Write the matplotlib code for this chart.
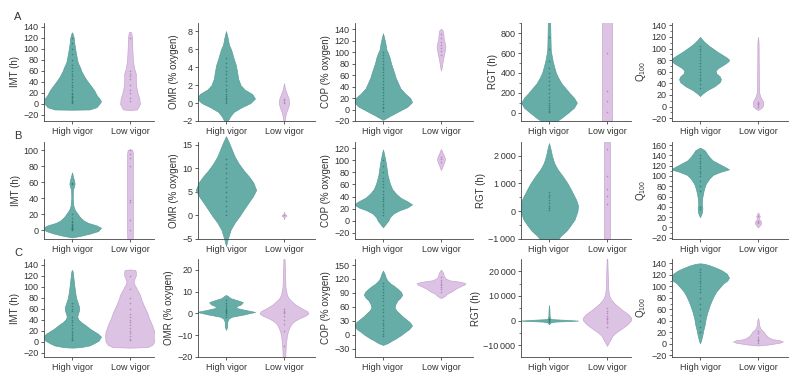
import numpy as np
import matplotlib
matplotlib.use("Agg")
import matplotlib.pyplot as plt
from matplotlib.ticker import AutoMinorLocator

plt.rcParams['font.family'] = ['Liberation Sans', 'DejaVu Sans']
plt.rcParams['mathtext.fontset'] = 'custom'
plt.rcParams['mathtext.rm'] = 'Liberation Sans'
plt.rcParams['mathtext.it'] = 'Liberation Sans:italic'

categories = ["High vigor", "Low vigor"]
row_letters = ["A", "B", "C"]
ylabels = ["IMT (h)", "OMR (% oxygen)", "COP (% oxygen)", "RGT (h)", "Q$_{100}$"]

# ---------------- Row A ----------------
imt_a_hi_y = [-10.5, -10, -6, 0, 5, 10, 15, 25, 35, 42, 50, 60, 66, 75, 85, 97, 110, 120, 128, 130]
imt_a_hi_w = [0.0, 0.30, 0.42, 0.47, 0.50, 0.47, 0.43, 0.38, 0.31, 0.26, 0.21, 0.16, 0.14, 0.10, 0.08, 0.06, 0.04, 0.03, 0.01, 0.0]
imt_a_hi_pts = [1, 3, 5, 8, 10, 12, 15, 18, 20, 25, 30, 35, 40, 45, 50, 55, 60, 65, 70, 80, 90, 100, 110, 120]
imt_a_lo_y = [-11, -10, 0, 10, 20, 30, 40, 55, 65, 80, 100, 120, 130, 131]
imt_a_lo_w = [0.0, 0.12, 0.17, 0.16, 0.13, 0.11, 0.10, 0.10, 0.07, 0.05, 0.04, 0.035, 0.02, 0.0]
imt_a_lo_pts = [5, 10, 20, 25, 35, 45, 50, 55, 60, 120]

omr_a_hi_y = [-2, -1.5, -1, -0.5, 0, 0.5, 1, 1.5, 2, 2.7, 3.5, 4.2, 5, 5.9, 6.5, 7.2, 8]
omr_a_hi_w = [0.03, 0.07, 0.13, 0.26, 0.42, 0.50, 0.45, 0.32, 0.25, 0.21, 0.19, 0.17, 0.13, 0.09, 0.05, 0.03, 0.0]
omr_a_hi_pts = [0, 0.2, 0.4, 0.6, 0.8, 1.0, 1.3, 1.6, 2.0, 2.4, 2.8, 3.2, 3.6, 4.0, 4.5, 5.0]
omr_a_lo_y = [-2, -1.5, -1, -0.5, 0, 0.5, 1, 1.5, 2.2]
omr_a_lo_w = [0.01, 0.02, 0.04, 0.07, 0.09, 0.08, 0.05, 0.02, 0.0]
omr_a_lo_pts = [0, 0.1, 0.3, 0.5]

cop_a_hi_y = [-18, -10, -2, 5, 13, 20, 28, 37, 46, 55, 68, 80, 92, 100, 104, 116, 125, 133]
cop_a_hi_w = [0.0, 0.14, 0.29, 0.42, 0.50, 0.47, 0.38, 0.30, 0.26, 0.22, 0.18, 0.14, 0.11, 0.08, 0.06, 0.04, 0.02, 0.0]
cop_a_hi_pts = [-2, 2, 5, 10, 15, 20, 25, 30, 35, 40, 45, 50, 55, 60, 65, 70, 75, 80, 85, 90, 95, 100]
cop_a_lo_y = [68, 75, 85, 95, 105, 110, 115, 125, 132, 138, 141]
cop_a_lo_w = [0.0, 0.015, 0.03, 0.05, 0.07, 0.075, 0.065, 0.045, 0.04, 0.03, 0.0]
cop_a_lo_pts = [95, 102, 108, 112, 118, 125, 132]

rgt_a_hi_y = [-150, -100, -50, 0, 50, 100, 150, 200, 250, 290, 350, 400, 460, 530, 630, 750, 900, 950]
rgt_a_hi_w = [0.0, 0.10, 0.22, 0.33, 0.43, 0.48, 0.43, 0.35, 0.28, 0.22, 0.16, 0.12, 0.09, 0.06, 0.03, 0.025, 0.02, 0.02]
rgt_a_hi_pts = [5, 20, 40, 60, 80, 100, 130, 160, 200, 240, 280, 320, 360, 400, 450, 520, 640, 760]
rgt_a_lo_y = [-100, 1000]
rgt_a_lo_w = [0.085, 0.085]
rgt_a_lo_pts = [7, 119, 221, 602]

q_a_hi_y = [18, 22, 28, 35, 42, 47, 52, 57, 62, 67, 73, 78, 81, 85, 90, 95, 100, 105, 110, 115, 120]
q_a_hi_w = [0.0, 0.04, 0.12, 0.25, 0.34, 0.36, 0.34, 0.28, 0.27, 0.32, 0.42, 0.49, 0.50, 0.45, 0.37, 0.29, 0.22, 0.15, 0.09, 0.04, 0.0]
q_a_hi_pts = [32, 38, 45, 50, 55, 60, 65, 70, 75, 80, 85, 90, 95, 100, 105]
q_a_lo_y = [-6, -3, 0, 5, 10, 15, 20, 25, 40, 80, 110, 120]
q_a_lo_w = [0.0, 0.05, 0.08, 0.09, 0.08, 0.05, 0.03, 0.02, 0.015, 0.012, 0.01, 0.0]
q_a_lo_pts = [0, 2, 4, 6, 8]

# ---------------- Row B ----------------
imt_b_hi_y = [-9, -7, -4, -1, 3, 6, 9, 12, 16, 20, 25, 30, 40, 50, 55, 58, 62, 66, 72]
imt_b_hi_w = [0.0, 0.15, 0.32, 0.45, 0.50, 0.42, 0.28, 0.20, 0.14, 0.10, 0.05, 0.025, 0.012, 0.015, 0.035, 0.045, 0.035, 0.02, 0.0]
imt_b_hi_pts = [0, 1, 2, 3, 4, 5, 6, 8, 10, 12, 15, 20, 57, 59]
imt_b_lo_y = [-15, 0, 50, 95, 100, 101]
imt_b_lo_w = [0.045, 0.05, 0.05, 0.05, 0.04, 0.0]
imt_b_lo_pts = [0, 13, 35, 38, 80, 90, 95, 100]

omr_b_hi_y = [-6.5, -5, -3, -1.5, 0, 1.5, 2.6, 4, 5.4, 7, 8.2, 9.5, 11, 12.5, 14, 15.5, 16.8]
omr_b_hi_w = [0.0, 0.03, 0.08, 0.15, 0.24, 0.32, 0.38, 0.46, 0.52, 0.47, 0.40, 0.31, 0.22, 0.15, 0.10, 0.05, 0.0]
omr_b_hi_pts = [0, 1, 2, 3, 4, 5, 6, 7, 8, 9, 10, 11, 12]
omr_b_lo_y = [-0.8, -0.3, 0, 0.3, 0.8]
omr_b_lo_w = [0.0, 0.01, 0.045, 0.01, 0.0]
omr_b_lo_pts = [0]

cop_b_hi_y = [-11, -5, 0, 6, 12, 17, 22, 27, 32, 38, 45, 52, 61, 75, 85, 95, 105, 112, 118]
cop_b_hi_w = [0.0, 0.05, 0.09, 0.12, 0.18, 0.28, 0.42, 0.50, 0.42, 0.30, 0.22, 0.16, 0.12, 0.08, 0.065, 0.05, 0.03, 0.015, 0.0]
cop_b_hi_pts = [10, 15, 20, 25, 28, 32, 36, 40, 45, 50, 55, 60, 65, 70, 80, 90, 100]
cop_b_lo_y = [84, 90, 96, 102, 108, 113, 119]
cop_b_lo_w = [0.0, 0.025, 0.05, 0.07, 0.05, 0.025, 0.0]
cop_b_lo_pts = [98, 102, 106]

rgt_b_hi_y = [-1300, -1150, -1000, -890, -700, -540, -300, 0, 200, 400, 770, 1000, 1250, 1500, 1730, 2000, 2250, 2450]
rgt_b_hi_w = [0.0, 0.10, 0.16, 0.20, 0.30, 0.36, 0.44, 0.49, 0.50, 0.47, 0.38, 0.32, 0.24, 0.15, 0.09, 0.05, 0.025, 0.0]
rgt_b_hi_pts = [50, 120, 200, 300, 400, 500, 600, 700]
rgt_b_lo_y = [-1000, 2490]
rgt_b_lo_w = [0.045, 0.045]
rgt_b_lo_pts = [250, 550, 800, 1250, 2250]

q_b_hi_y = [20, 25, 30, 38, 45, 55, 65, 75, 85, 95, 102, 108, 113, 118, 124, 130, 137, 143, 150, 155]
q_b_hi_w = [0.0, 0.02, 0.035, 0.04, 0.03, 0.035, 0.05, 0.07, 0.10, 0.16, 0.22, 0.35, 0.50, 0.42, 0.32, 0.22, 0.16, 0.12, 0.08, 0.0]
q_b_hi_pts = [35, 40, 70, 80, 90, 100, 105, 110, 115, 120, 125, 130, 135, 140]
q_b_lo_y = [0, 4, 8, 12, 15, 18, 22, 26, 29]
q_b_lo_w = [0.0, 0.03, 0.055, 0.05, 0.025, 0.02, 0.03, 0.015, 0.0]
q_b_lo_pts = [8, 10, 12, 22]

# ---------------- Row C ----------------
imt_c_hi_y = [-11, -10, -7, -3, 2, 9, 14, 18, 24, 30, 35, 40, 45, 50, 56, 62, 70, 78, 86, 97, 110, 120, 128, 130]
imt_c_hi_w = [0.0, 0.15, 0.30, 0.38, 0.46, 0.50, 0.45, 0.39, 0.30, 0.23, 0.16, 0.11, 0.09, 0.10, 0.12, 0.125, 0.10, 0.075, 0.06, 0.045, 0.03, 0.02, 0.01, 0.0]
imt_c_hi_pts = [2, 5, 8, 12, 15, 20, 25, 30, 35, 40, 45, 55, 60, 65, 70]
imt_c_lo_y = [-11, -10, -6, 0, 10, 18, 30, 42, 54, 65, 75, 85, 95, 105, 110, 115, 120, 127, 130, 131]
imt_c_lo_w = [0.0, 0.30, 0.38, 0.42, 0.43, 0.42, 0.38, 0.33, 0.29, 0.24, 0.20, 0.17, 0.12, 0.07, 0.06, 0.08, 0.10, 0.10, 0.09, 0.0]
imt_c_lo_pts = [2, 5, 10, 15, 20, 25, 30, 35, 40, 45, 50, 60, 70, 80, 95, 120]

omr_c_hi_y = [-7.5, -6, -4, -2.5, -1.5, -0.5, 0.7, 1.5, 2.5, 3.3, 4.2, 5.2, 6, 7, 8, 8.5]
omr_c_hi_w = [0.0, 0.02, 0.02, 0.04, 0.10, 0.30, 0.50, 0.35, 0.18, 0.18, 0.26, 0.29, 0.20, 0.08, 0.03, 0.0]
omr_c_hi_pts = [-1.5, -0.5, 0, 0.5, 1, 1.5, 2, 3, 4, 5, 6]
omr_c_lo_y = [-21, -15, -10, -8, -6, -4.7, -3.5, -2.4, -1, 0, 1, 2.4, 4, 5.4, 7, 8.5, 12, 16, 20, 25]
omr_c_lo_w = [0.02, 0.03, 0.05, 0.07, 0.10, 0.13, 0.18, 0.25, 0.37, 0.42, 0.40, 0.30, 0.20, 0.14, 0.08, 0.05, 0.025, 0.02, 0.015, 0.01]
omr_c_lo_pts = [-15, -8, -5, -3, -1, 0, 0.5, 1, 2]

cop_c_hi_y = [-22, -18, -12, -8, 0, 6, 12, 20, 27, 33, 40, 45, 52, 58, 65, 74, 80, 86, 92, 98, 105, 110, 116, 122, 130, 138]
cop_c_hi_w = [0.0, 0.08, 0.16, 0.22, 0.32, 0.38, 0.45, 0.50, 0.46, 0.40, 0.33, 0.29, 0.23, 0.20, 0.21, 0.25, 0.30, 0.33, 0.31, 0.26, 0.19, 0.13, 0.08, 0.05, 0.03, 0.0]
cop_c_hi_pts = [-3, 2, 8, 14, 20, 26, 32, 40, 48, 56, 64, 72, 80, 86, 92, 98, 105, 112]
cop_c_lo_y = [79, 83, 88, 93, 99, 104, 108, 111, 114, 117, 121, 126, 131, 136, 140]
cop_c_lo_w = [0.0, 0.06, 0.10, 0.18, 0.25, 0.33, 0.40, 0.42, 0.33, 0.15, 0.08, 0.05, 0.04, 0.025, 0.0]
cop_c_lo_pts = [92, 98, 103, 107, 110, 113, 118, 125]

rgt_c_hi_y = [-1500, -800, -400, 0, 300, 600, 900, 2000, 4000, 6300]
rgt_c_hi_w = [0.0, 0.02, 0.10, 0.50, 0.30, 0.05, 0.02, 0.01, 0.008, 0.0]
rgt_c_hi_pts = [-500, 0, 200, 500, 800]
rgt_c_lo_y = [-10200, -8000, -5900, -4500, -3250, -1500, 0, 1000, 2500, 4170, 5500, 6900, 8500, 10250, 13000, 17000, 21000, 25000]
rgt_c_lo_w = [0.0, 0.05, 0.10, 0.17, 0.25, 0.35, 0.41, 0.42, 0.37, 0.27, 0.20, 0.13, 0.07, 0.035, 0.02, 0.015, 0.01, 0.005]
rgt_c_lo_pts = [-2500, -1000, 0, 500, 1000, 2000, 3000, 4000, 5000]

q_c_hi_y = [1, 5, 15, 25, 33, 45, 56, 65, 73, 82, 91, 98, 105, 110, 115, 122, 128, 132, 136, 139, 140]
q_c_hi_w = [0.0, 0.015, 0.04, 0.06, 0.08, 0.10, 0.13, 0.16, 0.19, 0.23, 0.28, 0.34, 0.40, 0.47, 0.50, 0.46, 0.37, 0.28, 0.18, 0.08, 0.0]
q_c_hi_pts = [20, 30, 40, 50, 60, 70, 80, 90, 95, 100, 105, 110, 115, 120, 125, 130]
q_c_lo_y = [-3, -1, 2, 4, 6, 8, 10, 13, 16, 19, 22, 25, 29, 35, 40, 45]
q_c_lo_w = [0.0, 0.20, 0.38, 0.43, 0.38, 0.25, 0.20, 0.16, 0.13, 0.11, 0.09, 0.05, 0.03, 0.015, 0.012, 0.0]
q_c_lo_pts = [2, 4, 6, 8, 12, 18, 22]

# ---------------- axis settings ----------------
yticks = [
    [np.arange(-20, 141, 20), np.arange(-2, 9, 2), np.arange(-20, 141, 20), np.arange(0, 801, 200), np.arange(-20, 141, 20)],
    [np.arange(0, 101, 20), np.arange(-5, 16, 5), np.arange(-20, 121, 20), [-1000, 0, 1000, 2000], np.arange(-20, 161, 20)],
    [np.arange(-20, 141, 20), np.arange(-20, 21, 10), np.arange(-30, 151, 30), [-10000, 0, 10000, 20000], np.arange(-20, 141, 20)],
]
ylims = [
    [(-31, 147), (-2, 8.9), (-20, 151), (-85, 905), (-25, 144)],
    [(-11, 110), (-5, 15.6), (-30.5, 130.5), (-1000, 2490), (-22.5, 166)],
    [(-28, 150), (-20, 25), (-48, 163), (-14700, 24900), (-23, 147.5)],
]

violins = [
    [(imt_a_hi_y, imt_a_hi_w, imt_a_hi_pts, imt_a_lo_y, imt_a_lo_w, imt_a_lo_pts),
     (omr_a_hi_y, omr_a_hi_w, omr_a_hi_pts, omr_a_lo_y, omr_a_lo_w, omr_a_lo_pts),
     (cop_a_hi_y, cop_a_hi_w, cop_a_hi_pts, cop_a_lo_y, cop_a_lo_w, cop_a_lo_pts),
     (rgt_a_hi_y, rgt_a_hi_w, rgt_a_hi_pts, rgt_a_lo_y, rgt_a_lo_w, rgt_a_lo_pts),
     (q_a_hi_y, q_a_hi_w, q_a_hi_pts, q_a_lo_y, q_a_lo_w, q_a_lo_pts)],
    [(imt_b_hi_y, imt_b_hi_w, imt_b_hi_pts, imt_b_lo_y, imt_b_lo_w, imt_b_lo_pts),
     (omr_b_hi_y, omr_b_hi_w, omr_b_hi_pts, omr_b_lo_y, omr_b_lo_w, omr_b_lo_pts),
     (cop_b_hi_y, cop_b_hi_w, cop_b_hi_pts, cop_b_lo_y, cop_b_lo_w, cop_b_lo_pts),
     (rgt_b_hi_y, rgt_b_hi_w, rgt_b_hi_pts, rgt_b_lo_y, rgt_b_lo_w, rgt_b_lo_pts),
     (q_b_hi_y, q_b_hi_w, q_b_hi_pts, q_b_lo_y, q_b_lo_w, q_b_lo_pts)],
    [(imt_c_hi_y, imt_c_hi_w, imt_c_hi_pts, imt_c_lo_y, imt_c_lo_w, imt_c_lo_pts),
     (omr_c_hi_y, omr_c_hi_w, omr_c_hi_pts, omr_c_lo_y, omr_c_lo_w, omr_c_lo_pts),
     (cop_c_hi_y, cop_c_hi_w, cop_c_hi_pts, cop_c_lo_y, cop_c_lo_w, cop_c_lo_pts),
     (rgt_c_hi_y, rgt_c_hi_w, rgt_c_hi_pts, rgt_c_lo_y, rgt_c_lo_w, rgt_c_lo_pts),
     (q_c_hi_y, q_c_hi_w, q_c_hi_pts, q_c_lo_y, q_c_lo_w, q_c_lo_pts)],
]

W, H = 800, 377
col_left = [44, 198, 355, 521, 672]
col_width = [110, 117, 118, 110, 116]
row_top = [23, 142, 259]
row_bottom = [121, 239, 357]
unit_px = 58.0

HI_FILL, HI_EDGE, HI_PT = "#66ada7", "#5a9f99", "#2f7a73"
LO_FILL, LO_EDGE, LO_PT = "#dcc3e3", "#c9a5d3", "#b07fba"


def fmt_tick(v):
    v = float(v)
    if abs(v) >= 1000:
        s = f"{abs(int(v)):,}".replace(",", "\u2009")
    elif v == int(v):
        s = str(abs(int(v)))
    else:
        s = str(abs(v))
    return ("\u2212" + s) if v < 0 else s


def draw_violin(ax, pos, ys, ws, pts, fill, edge, ptc, clip=True):
    ys = np.asarray(ys, float)
    ws = np.asarray(ws, float)
    ax.fill_betweenx(ys, pos - ws, pos + ws, facecolor=fill, edgecolor=edge,
                     linewidth=0.5, clip_on=clip, zorder=2)
    ax.plot(np.full(len(pts), pos), pts, ls='none', marker='o', ms=1.2,
            mew=0, color=ptc, alpha=0.8, zorder=3, clip_on=clip)


fig = plt.figure(figsize=(W / 100, H / 100), dpi=100)

for r in range(3):
    for c in range(5):
        l = col_left[c] / W
        b = 1 - row_bottom[r] / H
        w = col_width[c] / W
        h = (row_bottom[r] - row_top[r]) / H
        ax = fig.add_axes([l, b, w, h])
        hy, hw, hp, ly, lw_, lp = violins[r][c]
        clip_hi = not (r == 1 and c == 1)
        draw_violin(ax, 0, hy, hw, hp, HI_FILL, HI_EDGE, HI_PT, clip=clip_hi)
        draw_violin(ax, 1, ly, lw_, lp, LO_FILL, LO_EDGE, LO_PT)
        x0 = -28 / unit_px
        ax.set_xlim(x0, x0 + col_width[c] / unit_px)
        ax.set_ylim(*ylims[r][c])
        ax.set_xticks([0, 1])
        ax.set_xticklabels(categories)
        ax.set_yticks(yticks[r][c])
        ax.set_yticklabels([fmt_tick(v) for v in yticks[r][c]])
        if c >= 3:
            ax.yaxis.set_minor_locator(AutoMinorLocator(2))
            ax.tick_params(axis='y', which='minor', length=1.5, width=0.5, colors='#444444')
        for s in ['top', 'right']:
            ax.spines[s].set_visible(False)
        for s in ['left', 'bottom']:
            ax.spines[s].set_linewidth(0.6)
            ax.spines[s].set_color('#444444')
        ax.tick_params(axis='both', which='major', labelsize=6.5, length=2.5, width=0.6,
                       pad=1.5, colors='#444444', labelcolor='#333333')
        ax.set_ylabel(ylabels[c], fontsize=7, labelpad=2, color='#333333')
        ax.patch.set_alpha(0)

for r in range(3):
    fig.text(18 / W, 1 - (row_top[r] - 6) / H, row_letters[r], fontsize=8,
             color='#333333', ha='center', va='center')

fig.savefig("out.png", dpi=100)
